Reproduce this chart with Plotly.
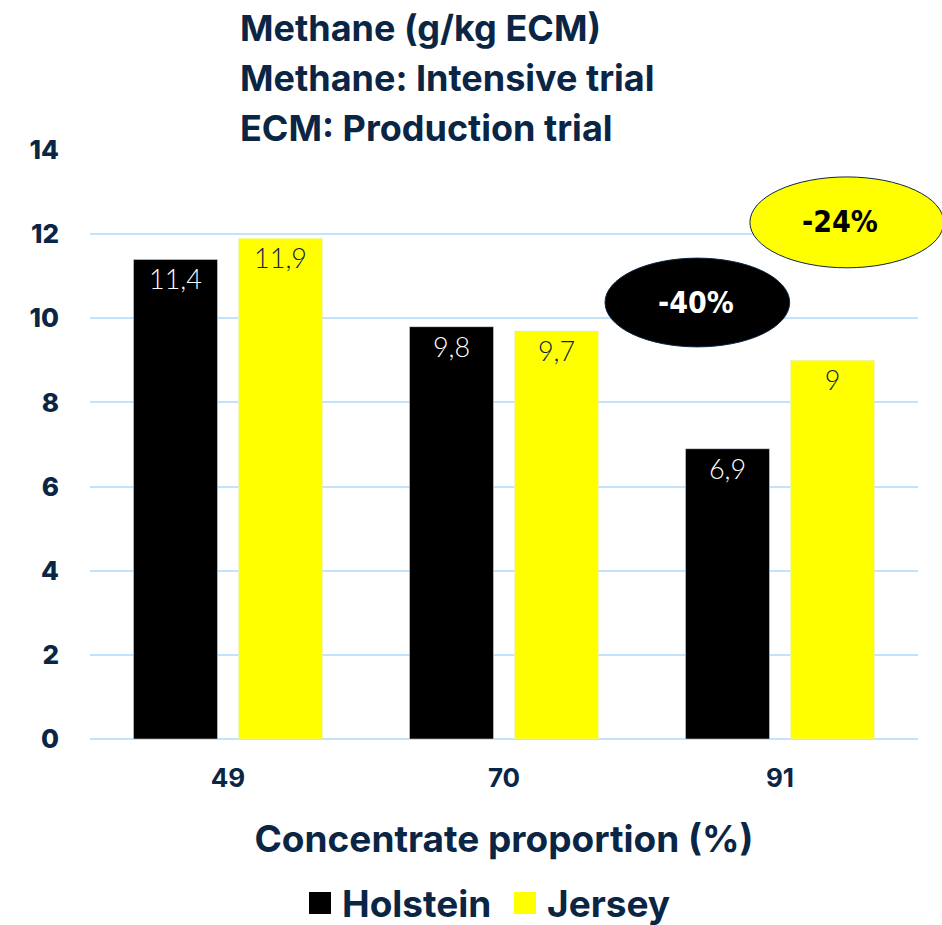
import plotly.graph_objects as go

# Methane yield per kg energy-corrected milk, by concentrate share of the diet
concentrate = ["49", "70", "91"]
holstein = [11.4, 9.8, 6.9]
jersey = [11.9, 9.7, 9.0]
breeds = ["Holstein", "Jersey"]
breed_colors = ["#000000", "#ffff00"]
reductions = ["-40%", "-24%"]
title_lines = ["Methane (g/kg ECM)", "Methane: Intensive trial", "ECM: Production trial"]
y_ticks = [0, 2, 4, 6, 8, 10, 12, 14]

NAVY = "#0b2545"
FONT = "Inter"
LABEL_FONT = "Lato"
BADGE_FONT = "DejaVu Sans Condensed"


def comma(v):
    return f"{v:g}".replace(".", ",")


fig = go.Figure()
for name, vals, color, txt in [
    (breeds[0], holstein, breed_colors[0], "#ffffff"),
    (breeds[1], jersey, breed_colors[1], NAVY),
]:
    fig.add_bar(
        x=concentrate, y=vals, name=name,
        marker_color=color,
        text=[comma(v) for v in vals],
        textposition="inside", insidetextanchor="end",
        textfont=dict(family=LABEL_FONT, size=27, color=txt, weight=300),
        showlegend=False,
    )

# Three-line heading above the plot
for i, line in enumerate(title_lines):
    fig.add_annotation(
        text=line, xref="paper", yref="paper",
        x=(238 - 90) / 828, y=1.207 - i * 0.085,
        xanchor="left", yanchor="middle", showarrow=False,
        font=dict(family=FONT, size=36, color=NAVY, weight=700),
    )

# Reduction badges (Holstein black, Jersey yellow)
fig.add_shape(type="circle", xref="paper", yref="y",
              x0=0.622, x1=0.845, y0=9.32, y1=11.43,
              fillcolor="#000000", line=dict(color=NAVY, width=1), layer="above")
fig.add_shape(type="circle", xref="paper", yref="y",
              x0=0.797, x1=1.031, y0=11.2, y1=13.36,
              fillcolor="#ffff00", line=dict(color=NAVY, width=1), layer="above")
fig.add_annotation(text=f"<b>{reductions[0]}</b>", xref="paper", yref="y",
                   x=(696 - 90) / 828, y=10.38, xanchor="center", yanchor="middle", showarrow=False,
                   font=dict(family=BADGE_FONT, size=30, color="#ffffff"))
fig.add_annotation(text=f"<b>{reductions[1]}</b>", xref="paper", yref="y",
                   x=(840 - 90) / 828, y=12.3, xanchor="center", yanchor="middle", showarrow=False,
                   font=dict(family=BADGE_FONT, size=30, color="#000000"))

# Legend row: colour swatch followed by breed name
legend_x = [(309 - 90) / 828, (514 - 90) / 828]
for name, color, lx in zip(breeds, breed_colors, legend_x):
    fig.add_shape(type="rect", xref="paper", yref="paper",
                  x0=lx, x1=lx + 22 / 828, y0=(739 - 914) / 589, y1=(739 - 892) / 589,
                  fillcolor=color, line=dict(width=0))
    fig.add_annotation(text=name, xref="paper", yref="paper",
                       x=lx + 31 / 828, y=(739 - 904) / 589,
                       xanchor="left", yanchor="middle", showarrow=False,
                       font=dict(family=FONT, size=37, color=NAVY, weight=700))

fig.update_layout(
    width=942, height=925,
    margin=dict(l=90, r=24, t=150, b=186),
    paper_bgcolor="#ffffff", plot_bgcolor="#ffffff",
    barmode="group", bargap=0.239, bargroupgap=0.2,
    showlegend=False,
    font=dict(family=FONT, color=NAVY),
)
fig.update_xaxes(
    type="category",
    tickfont=dict(family=FONT, size=26, color=NAVY, weight=700),
    ticks="", ticklabelstandoff=21,
    title=dict(text="Concentrate proportion (%)", standoff=34,
               font=dict(family=FONT, size=37, color=NAVY, weight=700)),
    showline=False,
)
fig.update_yaxes(
    range=[0, 14], tickvals=y_ticks,
    tickfont=dict(family=FONT, size=26, color=NAVY, weight=800),
    showgrid=True, gridcolor="#c3e2fb", gridwidth=2,
    zeroline=True, zerolinecolor="#c3e2fb", zerolinewidth=2,
    ticklabelstandoff=30,
)

fig.write_html("out.html")
